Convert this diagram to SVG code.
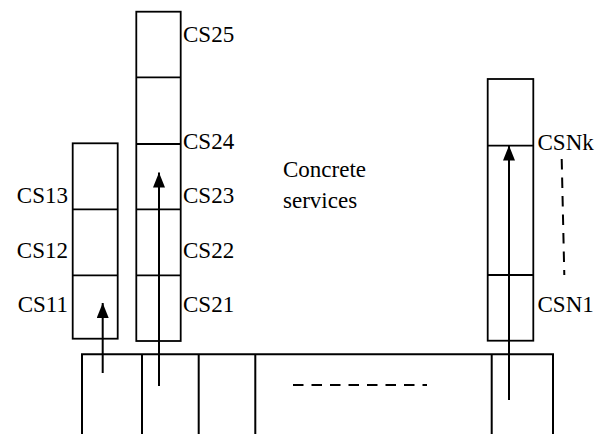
<svg xmlns="http://www.w3.org/2000/svg" width="605" height="434" viewBox="0 0 605 434">
<defs>
<style>
.box{fill:none;stroke:#000;stroke-width:1.8}
.ln{fill:none;stroke:#000;stroke-width:2}
.dash{fill:none;stroke:#000;stroke-width:2;stroke-dasharray:10.5 8}
.lbl{font-family:"Liberation Serif","Times New Roman",serif;font-size:23px;fill:#000}
</style>
<marker id="ah" markerWidth="15" markerHeight="12" refX="15" refY="6" orient="auto" markerUnits="userSpaceOnUse" viewBox="0 0 15 12">
<path d="M0,0 L15,6 L0,12 Z" fill="#000"/>
</marker>
</defs>
<rect width="605" height="434" fill="#fff"/>
<g id="platform">
<path class="ln" d="M82,434 V354.3 H553 V434 M142,354.3 V434 M198.7,354.3 V434 M255.3,354.3 V434 M491.7,354.3 V434"/>
<path class="dash" d="M293,385 H427"/>
</g>
<g id="col1">
<rect class="box" x="72.7" y="143.3" width="45" height="195.4"/>
<path class="box" d="M72.7,209.3 H117.7 M72.7,275.3 H117.7"/>
<text class="lbl" x="68" y="203" text-anchor="end">CS13</text>
<text class="lbl" x="68" y="258" text-anchor="end">CS12</text>
<text class="lbl" x="68" y="312" text-anchor="end">CS11</text>
</g>
<g id="col2">
<rect class="box" x="136.3" y="11.7" width="44.4" height="329.3"/>
<path class="box" d="M136.3,77.3 H180.7 M136.3,144 H180.7 M136.3,209.3 H180.7 M136.3,275.3 H180.7"/>
<text class="lbl" x="183" y="42">CS25</text>
<text class="lbl" x="183" y="149">CS24</text>
<text class="lbl" x="183" y="203">CS23</text>
<text class="lbl" x="183" y="258">CS22</text>
<text class="lbl" x="183" y="312">CS21</text>
</g>
<g id="colN">
<rect class="box" x="487.7" y="79" width="45.6" height="261.7"/>
<path class="box" d="M487.7,145.7 H533.3 M487.7,275 H533.3"/>
<text class="lbl" x="537.5" y="149.5">CSNk</text>
<text class="lbl" x="537.5" y="312">CSN1</text>
<path class="dash" d="M561.7,159 L564.3,275"/>
</g>
<g id="label">
<text class="lbl" x="283" y="177">Concrete</text>
<text class="lbl" x="283" y="208">services</text>
</g>
<g id="connectors">
<path class="ln" d="M102.7,373 V303" marker-end="url(#ah)"/>
<path class="ln" d="M159,386 V172.5" marker-end="url(#ah)"/>
<path class="ln" d="M509,400 V145.5" marker-end="url(#ah)"/>
</g>
</svg>
